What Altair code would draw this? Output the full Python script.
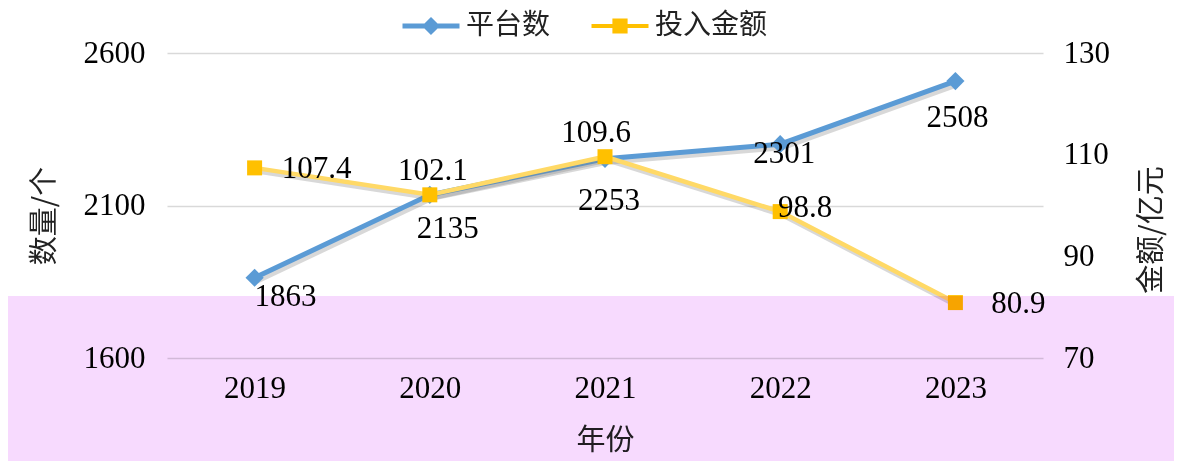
import altair as alt
import pandas as pd

# ---- data ----
years = ["2019", "2020", "2021", "2022", "2023"]
platforms = [1863, 2135, 2253, 2301, 2508]        # 平台数
amounts = [107.4, 102.1, 109.6, 98.8, 80.9]       # 投入金额 (亿元)
series_names = ["平台数", "投入金额"]
left_ticks = [1600, 2100, 2600]
right_ticks = [70, 90, 110, 130]

df = pd.DataFrame({"year": years, "platforms": platforms, "amount": amounts})

SERIF = "Liberation Serif"
CJK = "Noto Sans CJK SC"
BLUE = "#5b9bd5"
YELLOW_LINE = "#ffd966"
YELLOW_PT = "#ffc000"
SHADOW = "#7f7f7f"
NUM_SIZE = 31
CJK_SIZE = 29

W, H = 876, 305

# label offsets (pixels) relative to each point
blue_offsets = [(31, 19), (18, 34), (4, 42), (4, 10), (2, 37)]
yellow_offsets = [(62, 1), (3, -24), (-9, -24), (25, -4), (63, 1)]

x_enc = alt.X(
    "year:O", sort=years,
    scale=alt.Scale(type="point", padding=0.5),
    axis=alt.Axis(title="年份", labelAngle=0, ticks=False, domain=False, grid=False,
                  labelFont=SERIF, labelFontSize=NUM_SIZE, labelColor="#000", labelPadding=15,
                  titleFont=CJK, titleFontSize=CJK_SIZE, titleFontWeight="normal",
                  titleColor="#222", titlePadding=23),
)

y_left = alt.Y(
    "platforms:Q",
    scale=alt.Scale(domain=[1600, 2600]),
    axis=alt.Axis(orient="left", values=left_ticks, format="d", title="数量/个",
                  ticks=False, domain=False,
                  grid=True, gridColor="#d9d9d9", gridWidth=1.5,
                  labelFont=SERIF, labelFontSize=NUM_SIZE, labelColor="#000", labelPadding=22,
                  titleFont=CJK, titleFontSize=CJK_SIZE, titleFontWeight="normal",
                  titleColor="#222", titlePadding=24, titleY=H / 2 + 10),
)

y_right = alt.Y(
    "amount:Q",
    scale=alt.Scale(domain=[70, 130]),
    axis=alt.Axis(orient="right", values=right_ticks, format="d", title="金额/亿元",
                  ticks=False, domain=False, grid=False,
                  labelFont=SERIF, labelFontSize=NUM_SIZE, labelColor="#000", labelPadding=20,
                  titleFont=CJK, titleFontSize=CJK_SIZE, titleFontWeight="normal",
                  titleColor="#222", titlePadding=28, titleAngle=270, titleBaseline="top",
                  titleY=H / 2 + 24),
)

base = alt.Chart(df)

blue_shadow = base.mark_line(color=SHADOW, strokeWidth=6, opacity=0.3, xOffset=2, yOffset=3).encode(x=x_enc, y=y_left)
blue_line = base.mark_line(color=BLUE, strokeWidth=5).encode(x=x_enc, y=y_left)
blue_pts = base.mark_point(shape="diamond", filled=True, size=330, color=BLUE, opacity=1).encode(x=x_enc, y=y_left)
blue_labels = [
    base.transform_filter(alt.datum.year == years[i])
    .mark_text(dx=dx, dy=dy, font=SERIF, fontSize=NUM_SIZE, color="#000")
    .encode(x=x_enc, y=y_left, text=alt.Text("platforms:Q"))
    for i, (dx, dy) in enumerate(blue_offsets)
]

yellow_shadow = base.mark_line(color=SHADOW, strokeWidth=5.5, opacity=0.3, xOffset=2, yOffset=3).encode(x=x_enc, y=y_right)
yellow_line = base.mark_line(color=YELLOW_LINE, strokeWidth=4.5).encode(x=x_enc, y=y_right)
yellow_pts = base.mark_point(shape="square", filled=True, size=225, color=YELLOW_PT, opacity=1).encode(x=x_enc, y=y_right)
yellow_labels = [
    base.transform_filter(alt.datum.year == years[i])
    .mark_text(dx=dx, dy=dy, font=SERIF, fontSize=NUM_SIZE, color="#000")
    .encode(x=x_enc, y=y_right, text=alt.Text("amount:Q", format=".1f"))
    for i, (dx, dy) in enumerate(yellow_offsets)
]

blue_layer = alt.layer(blue_shadow, blue_line, blue_pts, *blue_labels)
yellow_layer = alt.layer(yellow_shadow, yellow_line, yellow_pts, *yellow_labels)

# legend symbols: a line segment with the series marker in its middle
diamond_sym = "M-1,-0.26L5,-0.26L5,0.26L-1,0.26Z M2,-0.95L2.95,0L2,0.95L1.05,0Z"
square_sym = "M-1,-0.22L5,-0.22L5,0.22L-1,0.22Z M1.2,-0.8L2.8,-0.8L2.8,0.8L1.2,0.8Z"

legend_def = alt.Legend(orient="none", legendX=231, legendY=-41,
                        direction="horizontal", title=None,
                        labelFont=CJK, labelFontSize=28, labelColor="#222",
                        symbolSize=361, symbolStrokeWidth=0,
                        columnPadding=36, labelOffset=40, padding=0, labelLimit=300)

legend_df = pd.DataFrame({"series": series_names})
legend_layer = (
    alt.Chart(legend_df)
    .transform_filter("false")
    .mark_point(filled=True, opacity=1)
    .encode(
        color=alt.Color("series:N",
                        scale=alt.Scale(domain=series_names, range=[BLUE, YELLOW_PT]),
                        legend=legend_def),
        shape=alt.Shape("series:N",
                        scale=alt.Scale(domain=series_names, range=[diamond_sym, square_sym]),
                        legend=legend_def),
    )
)

overlay = (
    alt.Chart(alt.Data(values=[{"o": 1}]))
    .mark_rect(color="#f7dafe", opacity=1, blend="multiply")
    .encode(x=alt.value(-159), x2=alt.value(1015), y=alt.value(243), y2=alt.value(416))
)

chart = (
    alt.layer(blue_layer, yellow_layer, legend_layer, overlay)
    .resolve_scale(y="independent")
    .properties(
        width=W, height=H,
        padding={"left": 159, "top": 45, "right": 131, "bottom": 103},
        autosize=alt.AutoSizeParams(type="none"),
    )
    .configure(background="white")
    .configure_view(stroke=None)
)

chart.save("out.html", embed_options={"renderer": "svg", "actions": False})
